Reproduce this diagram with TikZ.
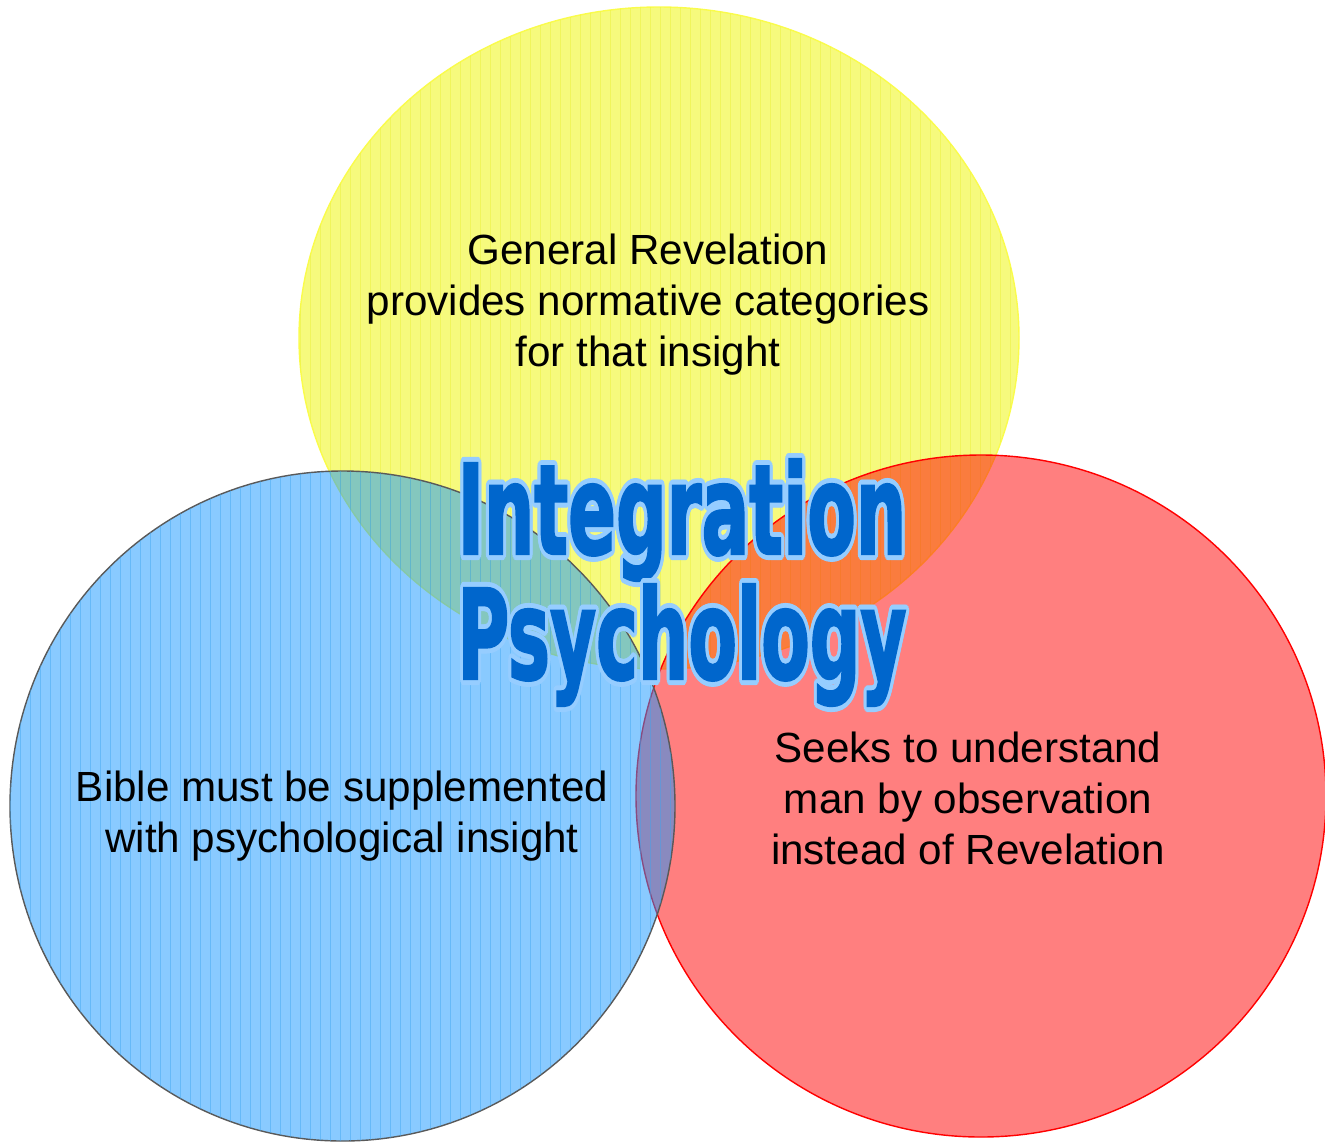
\documentclass[tikz,border=0pt]{standalone}
\usepackage{fontspec}
\setmainfont{Liberation Sans}
\newfontfamily\titlefont{DejaVu Sans Condensed Bold}[FakeBold=2]
\usepackage{contour}
\contourlength{2.8pt}
\definecolor{revyellow}{RGB}{246,250,125}
\definecolor{revline}{RGB}{236,242,70}
\definecolor{biblueline}{RGB}{60,165,240}
\definecolor{bibblue}{RGB}{20,150,255}
\definecolor{titleblue}{RGB}{0,102,204}
\definecolor{titleglow}{RGB}{150,205,255}

\def\revcircle{(13.18,-6.76) ellipse (7.2cm and 6.62cm)}
\def\biblecircle{(6.85,-16.12) ellipse (6.65cm and 6.7cm)}
\def\obscircle{(19.62,-15.92) ellipse (6.9cm and 6.82cm)}

\tikzset{
  circletext/.style={align=center, font=\fontsize{24}{29}\selectfont},
  titletext/.style={align=center, text=titleblue, font=\titlefont\fontsize{71}{68}\selectfont}
}

\begin{document}
\begin{tikzpicture}
  \useasboundingbox (0,0) rectangle (26.5,-22.82);
  \clip (0,0) rectangle (26.5,-22.82);
  % general revelation
  \draw[revyellow!60!yellow, thick, fill=revyellow] \revcircle;
  \begin{scope}
    \clip \revcircle;
    \foreach \x in {6.0,6.2,...,20.4}
      \draw[revline, very thin, opacity=0.6] (\x,0) -- (\x,-14);
  \end{scope}
  % observation
  \draw[red, thick, fill=red, fill opacity=0.5] \obscircle;
  % bible
  \draw[black!65, thick, fill=bibblue, fill opacity=0.5] \biblecircle;
  \begin{scope}
    \clip \biblecircle;
    \foreach \x in {0.2,0.4,...,13.6}
      \draw[biblueline, very thin, opacity=0.45] (\x,-9) -- (\x,-23);
  \end{scope}

  \node[circletext] (rev) at (12.96,-6.1) {General Revelation\\provides normative categories\\for that insight};
  \node[circletext] (bible) at (6.84,-16.33) {Bible must be supplemented\\with psychological insight};
  \node[circletext] (obs) at (19.36,-15.97) {Seeks to understand\\man by observation\\instead of Revelation};

  \node[titletext] (integ) at (13.64,-10.45) {\scalebox{0.63}[1]{\contour{titleglow}{Integration}}};
  \node[titletext] (psych) at (13.64,-12.95) {\scalebox{0.63}[1]{\contour{titleglow}{Psychology}}};
\end{tikzpicture}
\end{document}
